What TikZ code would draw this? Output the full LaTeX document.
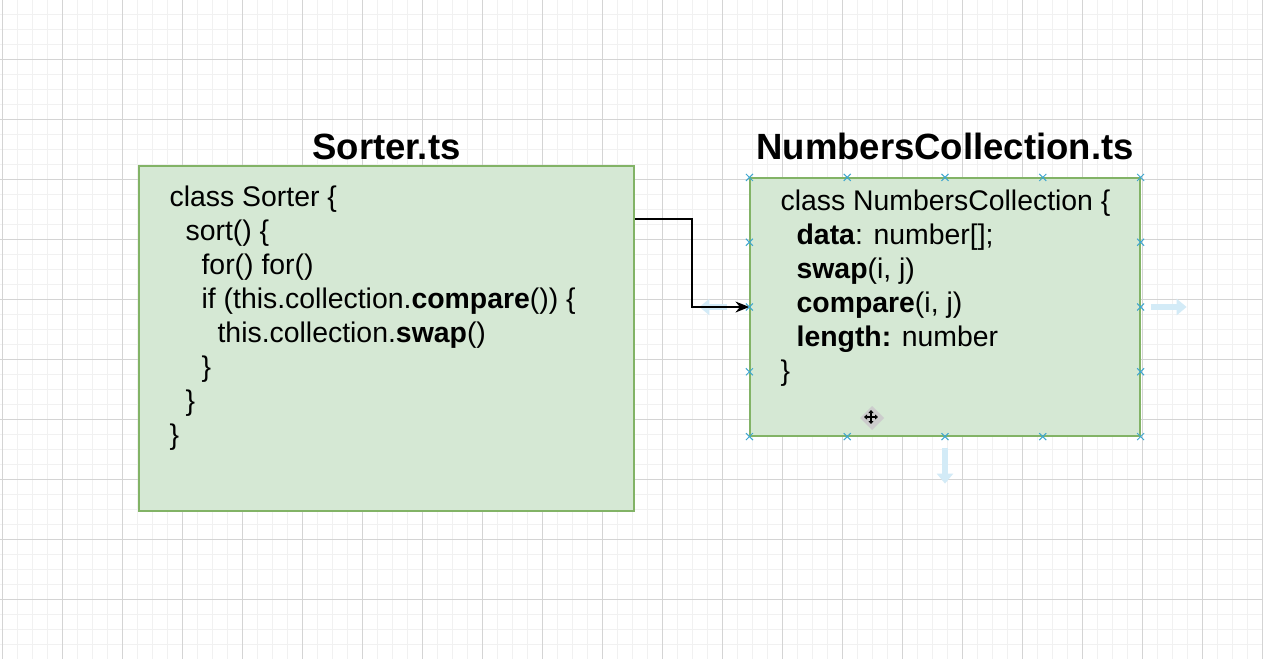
\documentclass[tikz,border=0pt]{standalone}
\usepackage{fontspec}
\setmainfont{Liberation Sans}
\usetikzlibrary{calc, arrows.meta, positioning, shapes.misc}
\definecolor{boxfill}{HTML}{D5E8D4}
\definecolor{boxline}{HTML}{82B366}
\definecolor{gridmajor}{HTML}{D4D4D4}
\definecolor{gridminor}{HTML}{F1F1F1}
\definecolor{handle}{HTML}{3FA7CF}
\definecolor{hoverblue}{HTML}{D3EBF7}
\newcommand{\indt}{\hspace*{16pt}}

\begin{document}
\begin{tikzpicture}[x=1pt, y=-1pt, every node/.style={inner sep=0pt}]
% Define styles
\tikzstyle{classbox} = [rectangle, draw=boxline, fill=boxfill, line width=1.2pt]
\tikzstyle{title} = [font=\fontsize{36.5}{40}\selectfont\bfseries]
\tikzstyle{code} = [align=left, font=\fontsize{28.4}{34}\selectfont]
\tikzstyle{arrow} = [-{Stealth[length=14pt, width=11pt]}, line width=1.3pt]
\tikzstyle{hover} = [-{Triangle[length=10pt, width=16pt]}, line width=6pt, hoverblue]
\tikzstyle{handlemark} = [cross out, draw=handle, line width=1pt, minimum size=6pt]
% Background grid
\useasboundingbox (0,0) rectangle (1263,659);
\fill [white] (0,0) rectangle (1263,659);
\foreach \x in {2.5,17.5,...,1263} \draw [gridminor, line width=1.5pt] (\x,0) -- (\x,659);
\foreach \y in {14.5,29.5,...,659} \draw [gridminor, line width=1.5pt] (0,\y) -- (1263,\y);
\foreach \x in {2.5,62.5,...,1263} \draw [gridmajor, line width=1pt] (\x,0) -- (\x,659);
\foreach \y in {59.5,119.5,...,659} \draw [gridmajor, line width=1pt] (0,\y) -- (1263,\y);
% Place nodes
\node (sorter) [classbox, minimum width=495pt, minimum height=345pt] at (386.5,338.5) {};
\node (numbers) [classbox, minimum width=390pt, minimum height=258pt] at (945,307) {};
\node (sortertitle) [title, above=5pt of sorter] {Sorter.ts};
\node (numberstitle) [title, above=17pt of numbers] {NumbersCollection.ts};
\node (sortercode) [code, below right=20pt and 31pt of sorter.north west] {class Sorter \{\\
\indt sort() \{\\
\indt\indt for() for()\\
\indt\indt if (this.collection.\textbf{compare}()) \{\\
\indt\indt\indt this.collection.\textbf{swap}()\\
\indt\indt \}\\
\indt \}\\
\}};
\node (numberscode) [code, below right=12pt and 31pt of numbers.north west] {class NumbersCollection \{\\
\indt\textbf{data}: number[];\\
\indt\textbf{swap}(i, j)\\
\indt\textbf{compare}(i, j)\\
\indt\textbf{length:} number\\
\}};
% Hover arrows
\draw [hover] ($(numbers.west)+(-22,0)$) -- ($(numbers.west)+(-50,0)$);
\draw [hover] ($(numbers.east)+(10,0)$) -- ($(numbers.east)+(46,0)$);
\draw [hover] ($(numbers.south)+(0,11)$) -- ($(numbers.south)+(0,47)$);
% Draw arrows
\coordinate (bend) at (692,219);
\draw [arrow] (bend -| sorter.east) -- (bend) |- (numbers.west);
% Selection handles
\foreach \t in {0,0.25,0.5,0.75,1} {
  \node [handlemark] at ($(numbers.north west)!\t!(numbers.north east)$) {};
  \node [handlemark] at ($(numbers.south west)!\t!(numbers.south east)$) {};
}
\foreach \t in {0.25,0.5,0.75} {
  \node [handlemark] at ($(numbers.north west)!\t!(numbers.south west)$) {};
  \node [handlemark] at ($(numbers.north east)!\t!(numbers.south east)$) {};
}
% Move cursor
\coordinate (cursor) at (871,417);
\fill [black!20] ($(cursor)+(-11,1)$) -- ($(cursor)+(1,-11)$) -- ($(cursor)+(13,1)$) -- ($(cursor)+(1,13)$) -- cycle;
\draw [{Triangle[length=3pt, width=5pt]}-{Triangle[length=3pt, width=5pt]}, line width=1.4pt] ($(cursor)+(-7,0)$) -- ($(cursor)+(7,0)$);
\draw [{Triangle[length=3pt, width=5pt]}-{Triangle[length=3pt, width=5pt]}, line width=1.4pt] ($(cursor)+(0,-7)$) -- ($(cursor)+(0,7)$);
\end{tikzpicture}
\end{document}
